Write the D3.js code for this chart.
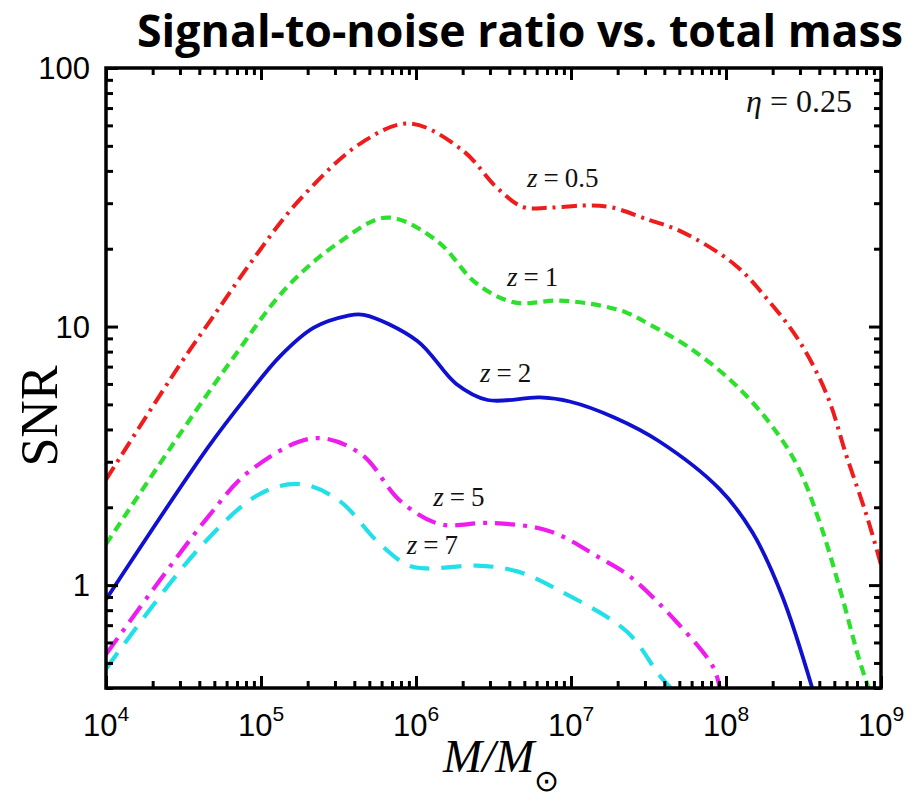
<!DOCTYPE html>
<html>
<head>
<meta charset="utf-8">
<script src="https://cdn.jsdelivr.net/npm/d3@7"></script>
<style>
  body { margin: 0; background: #fff; }
  svg { display: block; }
</style>
</head>
<body>
<div id="chart"></div>
<script>
// Data: total mass (solar masses) and SNR
const massZ05 = [1e4, 3.0e4, 4.9e4, 8.9e4, 1.73e5, 4.37e5, 9.1e5, 2.0e6, 3.3e6, 4.9e6, 7.1e6, 1.2e7, 1.78e7, 3.2e7, 5.0e7, 1.12e8, 1.86e8, 3.0e8, 4.5e8, 6.0e8, 8.1e8, 1e9];
const snrZ05  = [2.56, 7.13, 10.9, 18.2, 30.4, 51, 61, 48, 34.6, 29.0, 28.8, 29.4, 29.0, 25.8, 23.5, 17.5, 12.7, 8.7, 5.4, 3.15, 1.85, 1.2];

const massZ1 = [1e4, 3.14e4, 6.3e4, 1.47e5, 3.24e5, 6.5e5, 1.36e6, 2.45e6, 4.3e6, 8.5e6, 1.55e7, 2.3e7, 3.2e7, 5.6e7, 1.07e8, 1.9e8, 2.9e8, 4.1e8, 5.5e8, 7.2e8, 8.3e8];
const snrZ1  = [1.44, 4.0, 7.26, 14.2, 21.3, 26.4, 21.5, 14.7, 12.4, 12.6, 12.05, 11.3, 10.2, 8.4, 6.2, 4.26, 2.88, 1.69, 0.94, 0.52, 0.40];

const massZ2 = [1e4, 4.55e4, 8.1e4, 1.32e5, 2.19e5, 3.6e5, 4.6e5, 1.02e6, 1.82e6, 2.9e6, 6.3e6, 9.8e6, 1.9e7, 3.7e7, 9.1e7, 1.48e8, 2.3e8, 3.6e8];
const snrZ2  = [0.88, 3.41, 5.37, 7.65, 9.9, 11.0, 11.1, 8.8, 6.0, 5.2, 5.32, 5.13, 4.45, 3.6, 2.35, 1.6, 0.91, 0.40];

const massZ5 = [1e4, 4.5e4, 8.5e4, 2.2e5, 4.4e5, 7.9e5, 1.43e6, 3.0e6, 7.2e6, 1.55e7, 2.4e7, 4.8e7, 8.3e7, 9.1e7];
const snrZ5  = [0.54, 1.82, 2.77, 3.70, 3.22, 2.12, 1.72, 1.74, 1.62, 1.27, 1.08, 0.72, 0.48, 0.40];

const massZ7 = [1e4, 4.0e4, 9.8e4, 1.78e5, 3.2e5, 5.6e5, 8.7e5, 1.17e6, 2.45e6, 4.5e6, 8.5e6, 2.3e7, 3.7e7, 4.4e7];
const snrZ7  = [0.474, 1.39, 2.25, 2.46, 2.12, 1.48, 1.2, 1.16, 1.19, 1.13, 0.95, 0.66, 0.45, 0.40];

const seriesNames = ["0.5", "1", "2", "5", "7"];
const seriesColors = ["#ee1c1c", "#2ee02e", "#1010d0", "#ee1cee", "#22e0e8"];
const seriesDash = ["15,6,3,6", "10,6", null, "20,8,4,8", "20,12"];
const seriesWidth = [4, 4.2, 3.8, 4.2, 4.2];

// curve labels, placed in data coordinates (start of text, baseline)
const labelMass = [5.2e6, 3.87e6, 2.59e6, 1.29e6, 8.7e5];
const labelSnr  = [34.8, 14.4, 6.08, 2.02, 1.32];

const xMajor = [1e4, 1e5, 1e6, 1e7, 1e8, 1e9];
const xExp   = ["4", "5", "6", "7", "8", "9"];
const yMajor = [1, 10, 100];
const yLabels = ["1", "10", "100"];

const series = [
  { mass: massZ05, snr: snrZ05 },
  { mass: massZ1,  snr: snrZ1 },
  { mass: massZ2,  snr: snrZ2 },
  { mass: massZ5,  snr: snrZ5 },
  { mass: massZ7,  snr: snrZ7 }
];

const W = 923, H = 797;
const margin = { top: 68, right: 42, bottom: 109, left: 106 };
const width = W - margin.left - margin.right;
const height = H - margin.top - margin.bottom;

const root = d3.select("#chart")
    .append("svg")
    .attr("width", W)
    .attr("height", H);

// Title
root.append("text")
    .attr("x", 137)
    .attr("y", 47)
    .attr("textLength", 766)
    .attr("lengthAdjust", "spacingAndGlyphs")
    .style("font-family", "'Open Sans', sans-serif")
    .style("font-weight", "bold")
    .style("font-size", "45px")
    .text("Signal-to-noise ratio vs. total mass");

const svg = root.append("g")
    .attr("transform", `translate(${margin.left}, ${margin.top})`);

const xScale = d3.scaleLog().domain([1e4, 1e9]).range([0, width]);
const yScale = d3.scaleLog().domain([0.4, 100]).range([height, 0]);

svg.append("clipPath")
    .attr("id", "plot-clip")
    .append("rect")
    .attr("width", width)
    .attr("height", height);

// Lines
const line = d3.line()
    .x(d => xScale(d[0]))
    .y(d => yScale(d[1]))
    .curve(d3.curveCatmullRom.alpha(0.5));

svg.append("g")
    .attr("clip-path", "url(#plot-clip)")
    .selectAll("path")
    .data(series)
    .enter()
    .append("path")
    .attr("d", s => line(s.mass.map((m, i) => [m, s.snr[i]])))
    .attr("fill", "none")
    .attr("stroke", (s, i) => seriesColors[i])
    .attr("stroke-width", (s, i) => seriesWidth[i])
    .attr("stroke-dasharray", (s, i) => seriesDash[i]);

// Ticks on all four sides, pointing inward
const xMinor = xScale.ticks().filter(v => !xMajor.includes(v));
const yMinor = yScale.ticks().filter(v => !yMajor.includes(v));

function addAxis(axisFn, scale, values, size, transform) {
    const g = svg.append("g")
        .attr("transform", transform)
        .call(axisFn(scale).tickValues(values).tickSize(size).tickFormat(""));
    g.select(".domain").remove();
    g.selectAll("line").attr("stroke", "#000").attr("stroke-width", 3);
}

addAxis(d3.axisBottom, xScale, xMajor, -12, `translate(0, ${height})`);
addAxis(d3.axisBottom, xScale, xMinor, -7, `translate(0, ${height})`);
addAxis(d3.axisTop, xScale, xMajor, -12, "translate(0, 0)");
addAxis(d3.axisTop, xScale, xMinor, -7, "translate(0, 0)");
addAxis(d3.axisLeft, yScale, yMajor, -12, "translate(0, 0)");
addAxis(d3.axisLeft, yScale, yMinor, -7, "translate(0, 0)");
addAxis(d3.axisRight, yScale, yMajor, -12, `translate(${width}, 0)`);
addAxis(d3.axisRight, yScale, yMinor, -7, `translate(${width}, 0)`);

// Frame
svg.append("rect")
    .attr("width", width)
    .attr("height", height)
    .attr("fill", "none")
    .attr("stroke", "#000")
    .attr("stroke-width", 3.5);

// Tick labels
const xLab = svg.selectAll(".x-label")
    .data(xMajor)
    .enter()
    .append("text")
    .attr("class", "x-label")
    .attr("x", d => xScale(d))
    .attr("y", height + 48)
    .attr("text-anchor", "middle")
    .style("font-family", "'Liberation Sans', Arial, sans-serif")
    .style("font-size", "31px");
xLab.append("tspan").text("10");
xLab.append("tspan")
    .attr("dy", -15)
    .style("font-size", "21px")
    .text((d, i) => xExp[i]);

svg.selectAll(".y-label")
    .data(yMajor)
    .enter()
    .append("text")
    .attr("class", "y-label")
    .attr("x", -16)
    .attr("y", d => yScale(d) + 11)
    .attr("text-anchor", "end")
    .style("font-family", "'Liberation Sans', Arial, sans-serif")
    .style("font-size", "31px")
    .text((d, i) => yLabels[i]);

// Axis titles
root.append("text")
    .attr("transform", "translate(57, 416) rotate(-90)")
    .attr("text-anchor", "middle")
    .style("font-family", "'Liberation Serif', 'Times New Roman', serif")
    .style("font-size", "52px")
    .text("SNR");

const xTitle = root.append("text")
    .attr("x", 443)
    .attr("y", 772)
    .style("font-family", "'Liberation Serif', 'Times New Roman', serif")
    .style("font-size", "47px")
    .style("font-style", "italic");
xTitle.append("tspan").text("M/M");
xTitle.append("tspan")
    .attr("dy", 19)
    .attr("dx", 0)
    .style("font-style", "normal")
    .style("font-size", "30px")
    .text("\u2299");

// Curve labels
const zLab = svg.selectAll(".z-label")
    .data(seriesNames)
    .enter()
    .append("text")
    .attr("class", "z-label")
    .attr("x", (d, i) => xScale(labelMass[i]))
    .attr("y", (d, i) => yScale(labelSnr[i]))
    .style("font-family", "'Liberation Serif', 'Times New Roman', serif")
    .style("font-size", "27px")
    .attr("fill", "#111");
zLab.append("tspan").style("font-style", "italic").text("z");
zLab.append("tspan").attr("dx", 6).text("=");
zLab.append("tspan").attr("dx", 6).text(d => d);

// eta annotation
const eta = svg.append("text")
    .attr("x", xScale(6.5e8))
    .attr("y", yScale(67.6))
    .attr("text-anchor", "end")
    .style("font-family", "'Liberation Serif', 'Times New Roman', serif")
    .style("font-size", "32px")
    .attr("fill", "#111");
eta.append("tspan").style("font-style", "italic").text("\u03b7");
eta.append("tspan").attr("dx", 8).text("=");
eta.append("tspan").attr("dx", 8).text("0.25");
</script>
</body>
</html>
